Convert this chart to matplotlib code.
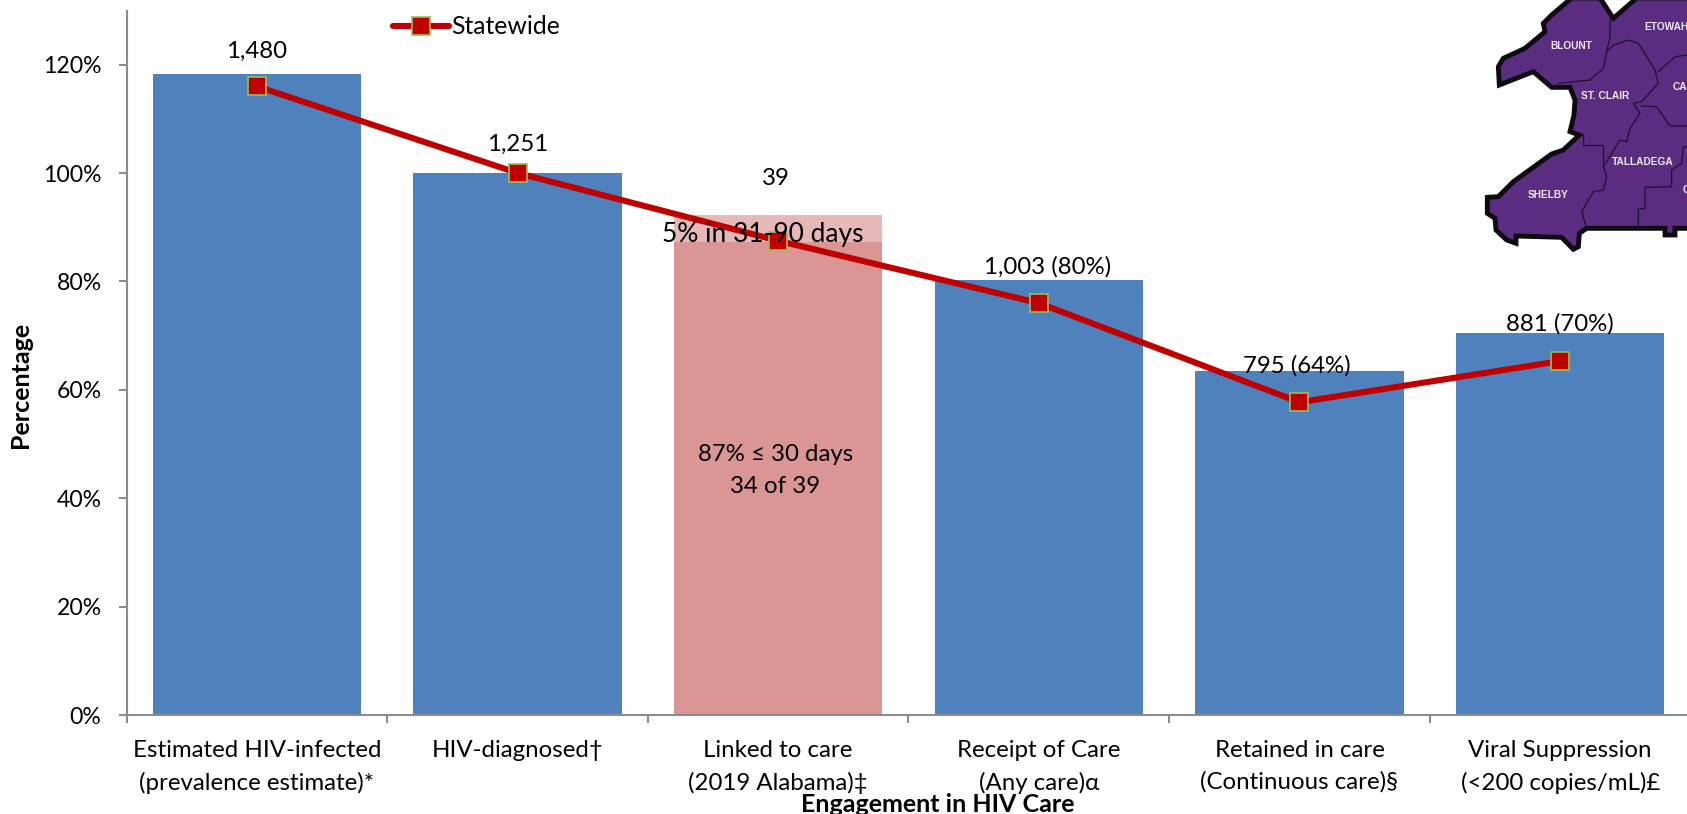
import matplotlib
matplotlib.use("Agg")
import matplotlib.pyplot as plt
from matplotlib.patches import Polygon
from matplotlib.lines import Line2D
from matplotlib.transforms import Affine2D

plt.rcParams['font.family'] = ['Lato', 'Noto Sans', 'DejaVu Sans']

categories = ["Estimated HIV-infected\n(prevalence estimate)*", "HIV-diagnosed†",
              "Linked to care\n(2019 Alabama)‡", "Receipt of Care\n(Any care)α",
              "Retained in care\n(Continuous care)§", "Viral Suppression\n(<200 copies/mL)£"]
bar_values = [118.3, 100, 87.2, 80.2, 63.5, 70.4]
linked_extra = 5.1
statewide = [116, 100, 87.5, 76, 57.7, 65.3]
bar_labels = ["1,480", "1,251", "39", "1,003 (80%)", "795 (64%)", "881 (70%)"]
label_y = [122.4, 105.2, 98.9, 82.6, 64.4, 72.2]
label_dx = [0, 0, -0.01, 0.035, -0.01, 0]
yticks = [0, 20, 40, 60, 80, 100, 120]

W, H = 1687, 814
fig = plt.figure(figsize=(W/100, H/100), dpi=100)
L, R, B, T = 126.5, 1690.5, 715, 11
ax = fig.add_axes([L/W, 1-B/H, (R-L)/W, (B-T)/H])
FS = 17.3
GREY = '#8c8c8c'

colors = ['#4f81bd', '#4f81bd', '#d99694', '#4f81bd', '#4f81bd', '#4f81bd']
x = list(range(len(categories)))
ax.bar(x, bar_values, width=0.8, color=colors, zorder=2)
ax.bar([2], [linked_extra], bottom=[bar_values[2]], width=0.8, color='#e6b9b8', zorder=2)
ax.plot(x, statewide, color='#c00000', lw=4.4, marker='s', ms=13, mfc='#c00000',
        mec='#9bbb59', mew=1.2, zorder=3, solid_capstyle='round', clip_on=False)

ax.set_xlim(-0.5, 5.5)
ax.set_ylim(0, (B-T)/5.42)
ax.set_yticks(yticks)
ax.set_yticklabels([f"{v}%" for v in yticks], fontsize=16.6)
ax.set_xticks([i+0.5 for i in range(-1, 6)])
ax.set_xticklabels([])
for s in ['top', 'right']:
    ax.spines[s].set_visible(False)
for s in ['left', 'bottom']:
    ax.spines[s].set_color(GREY)
    ax.spines[s].set_linewidth(1.5)
ax.tick_params(axis='both', color=GREY, width=1.5, length=6)
ax.tick_params(axis='y', pad=12, labelcolor='black')

for i, c in enumerate(categories):
    ax.text(i, -4.7, c, ha='center', va='top', fontsize=FS, linespacing=1.55, zorder=5)
for i, (t, y, d) in enumerate(zip(bar_labels, label_y, label_dx)):
    ax.text(i+d, y, t, ha='center', va='center', fontsize=FS, zorder=5)
ax.text(1.94, 88.7, "5% in 31-90 days", ha='center', va='center', fontsize=19, zorder=5)
ax.text(1.99, 48.1, "87% ≤ 30 days", ha='center', va='center', fontsize=FS, zorder=5)
ax.text(1.99, 42.2, "34 of 39", ha='center', va='center', fontsize=FS, zorder=5)

fig.text(20/W, 1-385/H, "Percentage", rotation=90, ha='center', va='center',
         fontsize=18, fontweight='bold')
fig.text(938/W, 1-805/H, "Engagement in HIV Care", ha='center', va='center',
         fontsize=18, fontweight='bold', zorder=6)

handle = Line2D([], [], color='#c00000', lw=4.4, marker='s', ms=13, mfc='#c00000',
                mec='#9bbb59', mew=1.2, solid_capstyle='round')
fig.legend([handle], ["Statewide"], loc='center left', bbox_to_anchor=(381/W, 1-27/H),
           frameon=False, fontsize=FS+0.5, handlelength=2.25, handletextpad=0.1, borderpad=0)

# Inset county map (decoration), traced in 3x crop pixels
map_tr = Affine2D().scale(1/3, 1/3).translate(1370, 0).scale(1, -1).translate(0, H)
outline = [(605,-6),(545,45),(520,70),(525,95),(465,145),(400,175),(385,200),(388,255),(490,215),
           (545,262),(600,262),(615,300),(612,345),(600,395),(628,405),(580,450),(545,462),
           (430,545),(385,590),(352,592),(352,640),(375,655),(378,690),(410,720),(438,730),
           (438,708),(575,712),(610,748),(625,740),(628,700),(650,685),(885,685),(885,705),
           (915,705),(915,685),(960,685),(960,-6),(800,-6),(730,55),(690,-6)]
fig.add_artist(Polygon(outline, closed=True, transform=map_tr, facecolor='#5a2d81',
                       edgecolor='#0d0a10', linewidth=3.5, joinstyle='miter', zorder=7))
borders = [
    [(720,50),(720,110),(710,155),(700,205),(660,240),(565,250)],
    [(710,155),(730,135),(775,120),(805,130),(855,210),(865,250),(815,305),(790,310),(810,340),
     (780,385),(770,425),(750,420),(700,500),(710,530),(700,570),(670,575),(635,635),(650,685)],
    [(640,405),(640,435),(700,435),(700,500)],
    [(865,215),(915,170),(951,165)],
    [(815,318),(860,320),(900,378),(951,378)],
    [(951,440),(940,440),(935,490),(905,510),(905,560),(825,562),(825,625),(805,628),(805,685)],
    [(950,145),(950,170)],
]
for b in borders:
    fig.add_artist(Line2D([p[0] for p in b], [p[1] for p in b], transform=map_tr,
                          color='#1e1030', lw=0.9, zorder=8))
map_names = [("BLOUNT", 604, 138, 'center'), ("ETOWAH", 822, 80, 'left'), ("ST. CLAIR", 706, 288, 'center'),
             ("CA", 908, 262, 'left'), ("TALLADEGA", 818, 487, 'center'),
             ("SHELBY", 535, 585, 'center'), ("C", 938, 570, 'left')]
for n, mx, my, ha in map_names:
    fig.text(mx, my, n, transform=map_tr, color='#efe6f5', fontsize=7.3, ha=ha, va='center',
             family=['Liberation Sans', 'DejaVu Sans'], fontweight='bold', zorder=9)

fig.savefig("out.png", dpi=100)
